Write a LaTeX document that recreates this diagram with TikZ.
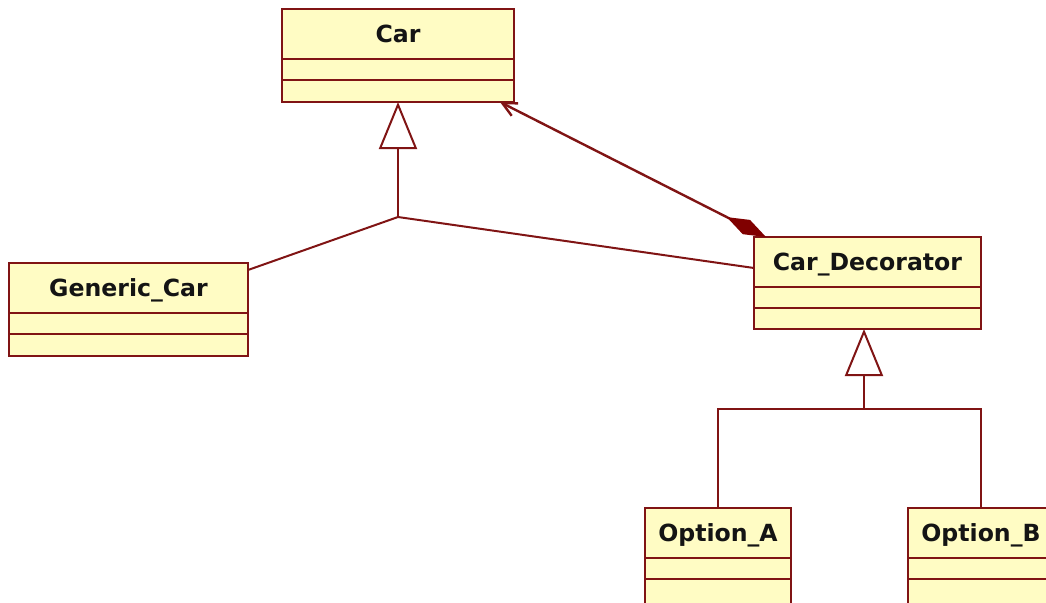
\documentclass[tikz,border=0pt]{standalone}
\usepackage{fontspec}
\setmainfont{DejaVu Sans}
\usetikzlibrary{arrows.meta,calc}

\definecolor{umlfill}{RGB}{255,252,196}
\definecolor{umlline}{RGB}{128,20,20}
\definecolor{umldiamond}{RGB}{128,0,0}
\definecolor{umltext}{RGB}{20,20,20}

% one UML class: name, left, top, width, height, title
\newcommand\umlclass[6]{%
  \node[classbox, minimum width=#4*0.5pt, minimum height=#5*0.5pt,
        anchor=north west] (#1) at (#2,#3) {};
  \node[classname] (#1-name) at ($(#1.north)+(0,33)$) {#6};
  \draw[divider] ($(#1.north west)+(0,50)$) -- ($(#1.north east)+(0,50)$);
  \draw[divider] ($(#1.north west)+(0,71)$) -- ($(#1.north east)+(0,71)$);
}

\begin{document}
\begin{tikzpicture}[x=0.5pt, y=-0.5pt,
  classbox/.style={draw=umlline, fill=umlfill, line width=1pt,
                   rectangle, inner sep=0pt, outer sep=0pt},
  classname/.style={font=\fontsize{11.8}{14}\selectfont\bfseries,
                    text=umltext, anchor=base, inner sep=0pt},
  divider/.style={draw=umlline, line width=1pt},
  link/.style={draw=umlline, line width=1pt},
  gen/.style={link, -{Triangle[open, length=23.5pt, width=19pt, fill=white]}},
  comp/.style={draw=umlline, line width=1.2pt,
               {Diamond[length=22pt, width=8pt, fill=umldiamond, color=umldiamond]}-{Straight Barb[length=7pt, width=7pt]}}
]
\useasboundingbox (0,0) rectangle (1046,602);
\clip (0,0) rectangle (1046,602);

% classes
\umlclass{car}{282}{9}{232}{93}{Car}
\umlclass{gcar}{9}{263}{239}{93}{Generic\_Car}
\umlclass{dec}{754}{237}{227}{92}{Car\_Decorator}
\umlclass{opta}{645}{508}{146}{110}{Option\_A}
\umlclass{optb}{908}{508}{146}{110}{Option\_B}

% junction points of the generalization trees
\coordinate (j1) at ($(car.south)+(0,115)$);
\coordinate (j2) at (864,409);

% Generic_Car and Car_Decorator specialize Car
\draw[link] ($(gcar.north east)+(0,7)$) -- (j1) -- ($(dec.north west)+(0,31)$);
\draw[gen] (j1) -- (car.south);

% Option_A and Option_B specialize Car_Decorator
\draw[link] (opta.north) |- (j2) -| (optb.north);
\draw[gen] (j2) -- (j2 |- dec.south);

% Car_Decorator is composed of a Car
\draw[comp] ($(dec.north west)+(12,0)$) -- ($(car.south east)+(-14,0)$);
\end{tikzpicture}
\end{document}
